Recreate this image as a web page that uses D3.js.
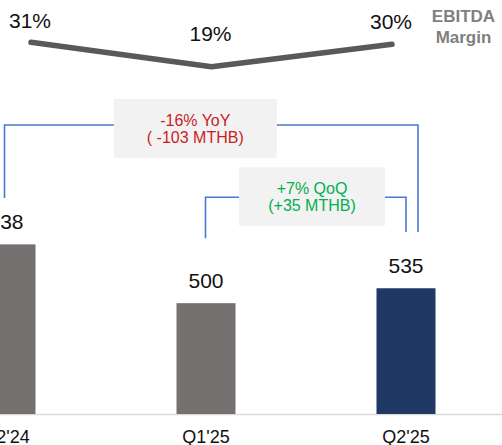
<!DOCTYPE html>
<html>
<head>
<meta charset="utf-8">
<script src="https://cdn.jsdelivr.net/npm/d3@7/dist/d3.min.js"></script>
<style>
  html, body { margin: 0; padding: 0; background: #fff; }
  svg { display: block; font-family: "Liberation Sans", Arial, sans-serif; }
</style>
</head>
<body>
<div id="chart"></div>
<script>
// Quarterly EBITDA (MTHB) with EBITDA margin trend
const categories = ["Q2'24", "Q1'25", "Q2'25"];
const ebitda = [638, 500, 535];
const marginPct = [31, 19, 30];
const barColors = ["#767171", "#767171", "#1f3864"];

// Change call-outs between quarters
const changes = [
  { from: 0, to: 2, lines: ["-16% YoY", "( -103 MTHB)"], color: "#c81e1e" },
  { from: 1, to: 2, lines: ["+7% QoQ", "(+35 MTHB)"], color: "#00b050" }
];

const W = 502, H = 445;
const baseY = 414;

const svg = d3.select("#chart").append("svg")
  .attr("width", W).attr("height", H);

// Bar positions
const x = d3.scaleBand()
  .domain(categories)
  .range([-94, 506])
  .paddingInner(0.705)
  .paddingOuter(0.3525);
const xc = c => x(c) + x.bandwidth() / 2;

// Bar heights (value axis starts above zero)
const y = d3.scaleLinear().domain([240, 640]).range([baseY, 243.5]);

// Baseline + category labels
const axis = svg.append("g")
  .attr("transform", `translate(0,${baseY})`)
  .call(d3.axisBottom(x).tickSize(0).tickPadding(16.5));
axis.select(".domain").attr("stroke", "#d9d9d9").attr("stroke-width", 1.5);
axis.selectAll("text")
  .attr("font-size", 18)
  .attr("font-family", "Liberation Sans, Arial, sans-serif")
  .attr("fill", "#111");

// Bars
svg.append("g").selectAll("rect")
  .data(categories)
  .join("rect")
  .attr("x", d => x(d))
  .attr("width", x.bandwidth())
  .attr("y", (d, i) => y(ebitda[i]))
  .attr("height", (d, i) => baseY - y(ebitda[i]))
  .attr("fill", (d, i) => barColors[i]);

// Bar value labels
svg.append("g").selectAll("text")
  .data(categories)
  .join("text")
  .attr("x", d => xc(d))
  .attr("y", (d, i) => y(ebitda[i]) - 15)
  .attr("text-anchor", "middle")
  .attr("font-size", 21)
  .attr("fill", "#111")
  .text((d, i) => ebitda[i]);

// Margin trend line
const mx = d3.scalePoint().domain(categories).range([31, 392]);
const my = d3.scaleLinear().domain([19, 31]).range([66.7, 42.3]);
const line = d3.line()
  .x((d, i) => mx(categories[i]))
  .y(d => my(d));
svg.append("path")
  .datum(marginPct)
  .attr("d", line)
  .attr("fill", "none")
  .attr("stroke", "#595959")
  .attr("stroke-width", 5.5)
  .attr("stroke-linecap", "round")
  .attr("stroke-linejoin", "round");

const topY = my(d3.max(marginPct));
svg.append("g").selectAll("text")
  .data(marginPct)
  .join("text")
  .attr("x", (d, i) => mx(categories[i]) - 1)
  .attr("y", d => my(d) - 14.6 - (my(d) - topY) * 0.45)
  .attr("text-anchor", "middle")
  .attr("font-size", 21)
  .attr("fill", "#111")
  .text(d => d + "%");

// Series label
const lbl = svg.append("text")
  .attr("text-anchor", "middle")
  .attr("font-size", 17)
  .attr("font-weight", "bold")
  .attr("fill", "#7f7f7f");
lbl.append("tspan").attr("x", 463.5).attr("y", 22).text("EBITDA");
lbl.append("tspan").attr("x", 463.5).attr("y", 43).text("Margin");

// Bracket call-outs
const bracketLayout = [
  { level: 125, dx0: -1.5, dx1: 12, end0: 198, end1: 232, box: { cx: 195.3, top: 99, w: 163, h: 59 } },
  { level: 197.3, dx0: -0.5, dx1: 0, end0: 238.3, end1: 232, box: { cx: 312, top: 167.3, w: 146, h: 58.5 } }
];

changes.forEach((c, k) => {
  const L = bracketLayout[k];
  const x0 = xc(categories[c.from]) + L.dx0;
  const x1 = xc(categories[c.to]) + L.dx1;
  const g = svg.append("g");
  g.append("path")
    .attr("d", `M${x0},${L.end0}V${L.level}H${x1}V${L.end1}`)
    .attr("fill", "none")
    .attr("stroke", "#4a78d0")
    .attr("stroke-width", 1.6);
  g.append("rect")
    .attr("x", L.box.cx - L.box.w / 2)
    .attr("y", L.box.top)
    .attr("width", L.box.w)
    .attr("height", L.box.h)
    .attr("fill", "#f2f2f2");
  g.selectAll("text")
    .data(c.lines)
    .join("text")
    .attr("x", L.box.cx)
    .attr("y", (d, i) => L.box.top + 27 + i * 17)
    .attr("text-anchor", "middle")
    .attr("font-size", 16)
    .attr("fill", c.color)
    .text(d => d);
});
</script>
</body>
</html>
